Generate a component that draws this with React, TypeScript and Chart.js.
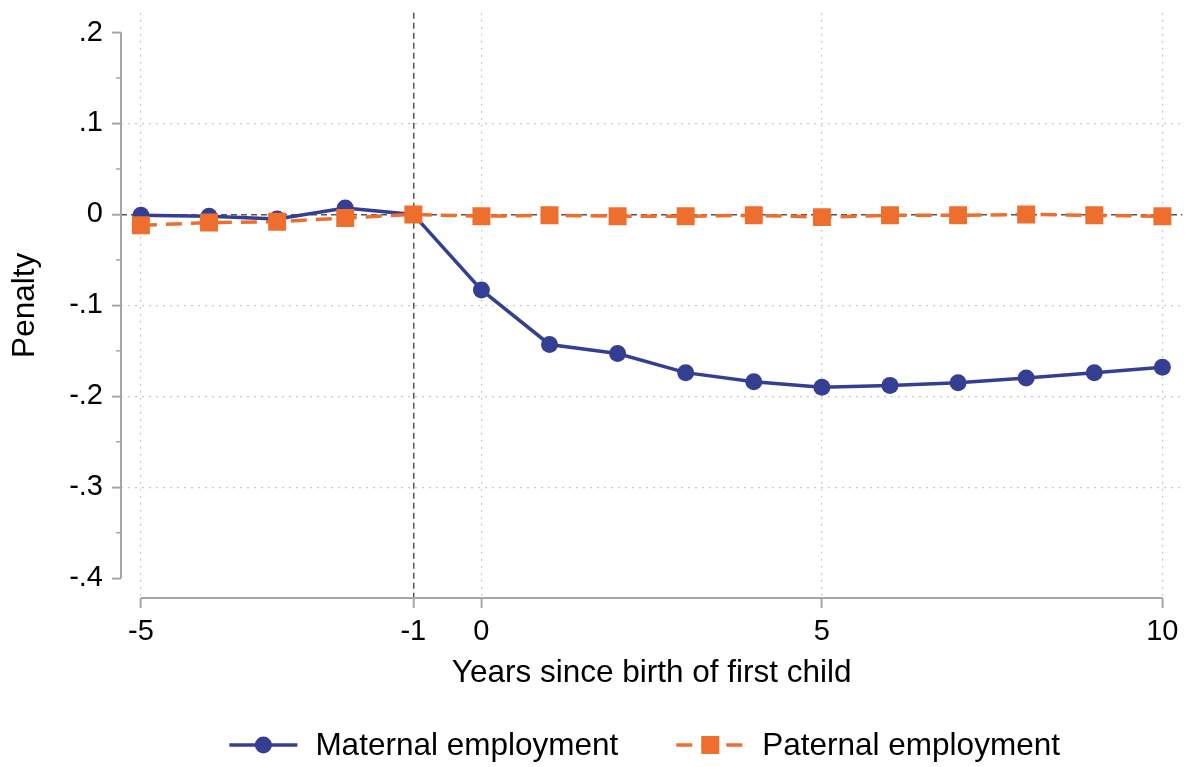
import React, { useEffect, useRef } from "react";
import { Chart, registerables } from "chart.js";

Chart.register(...registerables);

const years = [-5, -4, -3, -2, -1, 0, 1, 2, 3, 4, 5, 6, 7, 8, 9, 10];
const maternal = [-0.001, -0.002, -0.005, 0.007, 0, -0.083, -0.143, -0.153, -0.174, -0.184, -0.19, -0.188, -0.185, -0.18, -0.174, -0.168];
const paternal = [-0.012, -0.009, -0.008, -0.004, 0, -0.002, -0.001, -0.002, -0.002, -0.001, -0.003, -0.001, -0.001, 0, -0.001, -0.002];

const xTicks = [-5, -1, 0, 5, 10];
const yTicks = [0.2, 0.1, 0, -0.1, -0.2, -0.3, -0.4];
const yTickLabels = [".2", ".1", "0", "-.1", "-.2", "-.3", "-.4"];
const yMinorTicks = [0.15, 0.05, -0.05, -0.15, -0.25, -0.35];
const refX = -1;
const refY = 0;

const seriesNames = ["Maternal employment", "Paternal employment"];
const BLUE = "#343f94";
const ORANGE = "#ee6e2d";
const AXIS = "#a6a6a6";
const FONT = "'Liberation Sans', Arial, sans-serif";
const TITLE_SIZE = 31.5;
const TICK_SIZE = 29;

const axesPlugin = {
  id: "stataAxes",
  beforeDatasetsDraw(chart: any) {
    const { ctx, chartArea, scales } = chart;
    const x = scales.x;
    const y = scales.y;
    ctx.save();
    ctx.strokeStyle = AXIS;
    ctx.lineWidth = 2;
    ctx.setLineDash([]);
    ctx.beginPath();
    ctx.moveTo(chartArea.left, y.getPixelForValue(yTicks[0]));
    ctx.lineTo(chartArea.left, y.getPixelForValue(yTicks[yTicks.length - 1]));
    ctx.stroke();
    ctx.beginPath();
    ctx.moveTo(x.getPixelForValue(xTicks[0]), chartArea.bottom);
    ctx.lineTo(x.getPixelForValue(xTicks[xTicks.length - 1]), chartArea.bottom);
    ctx.stroke();
    ctx.lineWidth = 1.5;
    yMinorTicks.forEach((v) => {
      const py = y.getPixelForValue(v);
      ctx.beginPath();
      ctx.moveTo(chartArea.left - 5, py);
      ctx.lineTo(chartArea.left, py);
      ctx.stroke();
    });
    ctx.restore();
  },
  afterDraw(chart: any) {
    const { ctx, chartArea } = chart;
    ctx.save();
    ctx.font = `${TITLE_SIZE}px ${FONT}`;
    ctx.textBaseline = "middle";
    ctx.fillStyle = "#000";
    const symW = 68;
    const gapText = 18;
    const gapItems = 58;
    const w1 = ctx.measureText(seriesNames[0]).width;
    const w2 = ctx.measureText(seriesNames[1]).width;
    const total = symW + gapText + w1 + gapItems + symW + gapText + w2;
    const cx = (chartArea.left + chartArea.right) / 2 - 7;
    let lx = cx - total / 2;
    const ly = 745;
    ctx.strokeStyle = BLUE;
    ctx.lineWidth = 3.5;
    ctx.setLineDash([]);
    ctx.beginPath();
    ctx.moveTo(lx, ly);
    ctx.lineTo(lx + symW, ly);
    ctx.stroke();
    ctx.fillStyle = BLUE;
    ctx.beginPath();
    ctx.arc(lx + symW / 2, ly, 8.5, 0, Math.PI * 2);
    ctx.fill();
    ctx.fillStyle = "#000";
    ctx.fillText(seriesNames[0], lx + symW + gapText, ly + 1);
    lx += symW + gapText + w1 + gapItems;
    ctx.strokeStyle = ORANGE;
    ctx.setLineDash([16, 9]);
    ctx.beginPath();
    ctx.moveTo(lx, ly);
    ctx.lineTo(lx + symW, ly);
    ctx.stroke();
    ctx.setLineDash([]);
    ctx.fillStyle = ORANGE;
    ctx.fillRect(lx + symW / 2 - 9, ly - 9, 18, 18);
    ctx.fillStyle = "#000";
    ctx.fillText(seriesNames[1], lx + symW + gapText, ly + 1);
    ctx.restore();
  },
};

export default function App() {
  const ref = useRef<HTMLCanvasElement | null>(null);
  useEffect(() => {
    if (!ref.current) return;
    const xPad = 0.2927;
    const yPad = 0.0218;
    const chart = new Chart(ref.current, {
      type: "line",
      data: {
        datasets: [
          {
            label: seriesNames[1],
            data: years.map((yr, i) => ({ x: yr, y: paternal[i] })),
            borderColor: ORANGE,
            backgroundColor: ORANGE,
            borderWidth: 3.5,
            borderDash: [16, 9],
            pointStyle: "rect",
            pointRadius: 12.7,
            pointBorderWidth: 0,
            pointBackgroundColor: ORANGE,
            tension: 0,
            order: 0,
          },
          {
            label: seriesNames[0],
            data: years.map((yr, i) => ({ x: yr, y: maternal[i] })),
            borderColor: BLUE,
            backgroundColor: BLUE,
            borderWidth: 3.5,
            pointStyle: "circle",
            pointRadius: 8.5,
            pointBorderWidth: 0,
            pointBackgroundColor: BLUE,
            tension: 0,
            order: 1,
          },
        ],
      },
      options: {
        responsive: false,
        animation: false,
        layout: { padding: { top: 8, right: 9, bottom: 69, left: 0 } },
        plugins: {
          legend: { display: false },
          tooltip: { enabled: false },
        },
        scales: {
          x: {
            type: "linear",
            min: xTicks[0] - xPad,
            max: xTicks[xTicks.length - 1] + xPad,
            afterBuildTicks: (s: any) => {
              s.ticks = xTicks.map((v) => ({ value: v }));
            },
            afterFit: (s: any) => {
              s.height = 100;
              s.paddingLeft = 0;
              s.paddingRight = 0;
            },
            border: {
              display: false,
              dash: (c: any) => (c.tick && c.tick.value === refX ? [6, 4] : [2, 5]),
            },
            grid: {
              drawOnChartArea: true,
              color: (c: any) => (c.tick && c.tick.value === refX ? "#555555" : "#c8c8c8"),
              lineWidth: (c: any) => (c.tick && c.tick.value === refX ? 1.5 : 1.2),
              tickColor: AXIS,
              tickWidth: 2,
              tickLength: 10,
              tickBorderDash: [],
            },
            ticks: {
              color: "#000",
              font: { family: FONT, size: TICK_SIZE },
              padding: 7,
              maxRotation: 0,
              autoSkip: false,
              callback: (v: any) => String(v),
            },
            title: {
              display: true,
              text: "Years since birth of first child",
              color: "#000",
              font: { family: FONT, size: TITLE_SIZE },
              padding: { top: 0, bottom: 6 },
            },
          },
          y: {
            type: "linear",
            min: yTicks[yTicks.length - 1] - yPad,
            max: yTicks[0] + yPad,
            afterBuildTicks: (s: any) => {
              s.ticks = yTicks.map((v) => ({ value: v }));
            },
            afterFit: (s: any) => {
              s.width = 121;
              s.paddingTop = 0;
              s.paddingBottom = 0;
            },
            border: {
              display: false,
              dash: (c: any) => (c.tick && c.tick.value === refY ? [6, 4] : [2, 5]),
            },
            grid: {
              drawOnChartArea: true,
              color: (c: any) => {
                const v = c.tick ? c.tick.value : null;
                if (v === refY) return "#555555";
                if (v === yTicks[0] || v === yTicks[yTicks.length - 1]) return "rgba(0,0,0,0)";
                return "#c8c8c8";
              },
              lineWidth: (c: any) => (c.tick && c.tick.value === refY ? 1.5 : 1.2),
              tickColor: AXIS,
              tickWidth: 2,
              tickLength: 9,
              tickBorderDash: [],
            },
            ticks: {
              color: "#000",
              font: { family: FONT, size: TICK_SIZE },
              padding: 9,
              autoSkip: false,
              callback: (v: any) => {
                const idx = yTicks.findIndex((t) => Math.abs(t - v) < 1e-9);
                return idx >= 0 ? yTickLabels[idx] : "";
              },
            },
            title: {
              display: true,
              text: "Penalty",
              color: "#000",
              font: { family: FONT, size: TITLE_SIZE },
              padding: { top: 6, bottom: 0 },
            },
          },
        },
      },
      plugins: [axesPlugin],
    });
    return () => chart.destroy();
  }, []);
  return (
    <div style={{ position: "fixed", left: 0, top: 0, width: 1195, height: 767, background: "#fff" }}>
      <canvas ref={ref} width={1195} height={767} style={{ display: "block" }} />
    </div>
  );
}
